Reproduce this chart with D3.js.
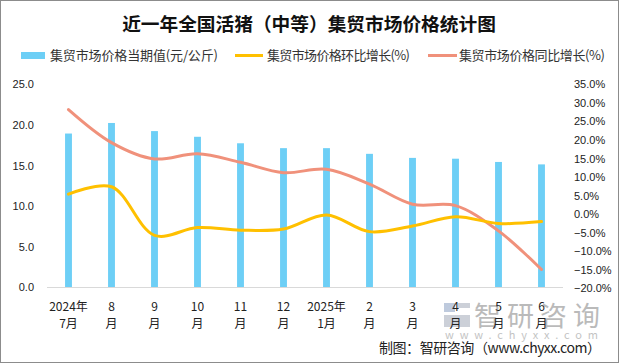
<!DOCTYPE html>
<html>
<head>
<meta charset="utf-8">
<script src="https://cdn.jsdelivr.net/npm/d3@7"></script>
<style>
  body { margin: 0; background: #fff; }
  svg { display: block; font-family: "Noto Sans CJK SC", "Noto Sans", sans-serif; }
  .tick-num { font-family: "Liberation Sans", Arial, sans-serif; font-size: 11px; fill: #222; }
</style>
</head>
<body>
<div id="chart"></div>
<script>
// month labels (two lines each)
var months = [
  ["2024年", "7月"], ["8", "月"], ["9", "月"], ["10", "月"], ["11", "月"], ["12", "月"],
  ["2025年", "1月"], ["2", "月"], ["3", "月"], ["4", "月"], ["5", "月"], ["6", "月"]
];
// 集贸市场价格当期值 (元/公斤)
var price = [18.9, 20.2, 19.2, 18.5, 17.7, 17.1, 17.1, 16.4, 15.9, 15.8, 15.4, 15.1];
// 环比增长 (%)
var momGrowth = [5.3, 7.3, -5.8, -3.7, -4.4, -4.1, -0.3, -4.8, -3.3, -0.8, -2.6, -2.1];
// 同比增长 (%)
var yoyGrowth = [28.1, 19.2, 14.8, 16.2, 13.9, 11.1, 12.0, 8.0, 2.6, 2.2, -4.6, -15.0];

var leftTicks = [0, 5, 10, 15, 20, 25];
var rightTicks = [-20, -15, -10, -5, 0, 5, 10, 15, 20, 25, 30, 35];

var W = 619, H = 363;
var plot = {left: 47, right: 563, top: 84, bottom: 287};

var svg = d3.select("#chart").append("svg")
  .attr("width", W).attr("height", H);

svg.append("rect")
  .attr("x", 0.5).attr("y", 0.5).attr("width", W - 1).attr("height", H - 1)
  .attr("fill", "#fff").attr("stroke", "#8c8c8c");

// title
svg.append("text")
  .attr("x", 309).attr("y", 31)
  .attr("text-anchor", "middle")
  .attr("font-size", "18.7px").attr("font-weight", "bold").attr("fill", "#111")
  .text("近一年全国活猪（中等）集贸市场价格统计图");

// legend
var legend = svg.append("g").attr("font-size", "13px").attr("fill", "#333");
legend.append("rect").attr("x", 21).attr("y", 52).attr("width", 24).attr("height", 7).attr("fill", "#6dcff6");
legend.append("text").attr("x", 50).attr("y", 60).attr("textLength", 168).text("集贸市场价格当期值(元/公斤)");
legend.append("line").attr("x1", 235).attr("x2", 263).attr("y1", 55.5).attr("y2", 55.5)
  .attr("stroke", "#ffc000").attr("stroke-width", 3);
legend.append("text").attr("x", 267).attr("y", 60).attr("textLength", 143).text("集贸市场价格环比增长(%)");
legend.append("line").attr("x1", 428).attr("x2", 457).attr("y1", 55.5).attr("y2", 55.5)
  .attr("stroke", "#f0917b").attr("stroke-width", 3);
legend.append("text").attr("x", 459).attr("y", 60).attr("textLength", 146).text("集贸市场价格同比增长(%)");

// scales
var x = d3.scaleBand()
  .domain(d3.range(months.length))
  .range([plot.left, plot.right])
  .paddingInner(0.84).paddingOuter(0.42);

var yL = d3.scaleLinear().domain([0, 25]).range([plot.bottom, plot.top]);
var yR = d3.scaleLinear().domain([-20, 35]).range([plot.bottom + 1, plot.top]);

function cx(i) { return x(i) + x.bandwidth() / 2; }

// left axis
var leftAxis = svg.append("g")
  .attr("transform", "translate(34,0)")
  .call(d3.axisLeft(yL).tickValues(leftTicks).tickSize(0).tickPadding(0)
    .tickFormat(d3.format(".1f")));
leftAxis.select(".domain").remove();
leftAxis.selectAll("text").attr("class", "tick-num").attr("dy", "0.35em");

// right axis
var rightAxis = svg.append("g")
  .attr("transform", "translate(574,0)")
  .call(d3.axisRight(yR).tickValues(rightTicks).tickSize(0).tickPadding(0)
    .tickFormat(function(d) { return d3.format(".1f")(d) + "%"; }));
rightAxis.select(".domain").remove();
rightAxis.selectAll("text").attr("class", "tick-num").attr("dy", "0.35em");

// bars
svg.append("g").selectAll("rect")
  .data(price)
  .join("rect")
  .attr("x", function(d, i) { return x(i); })
  .attr("width", x.bandwidth())
  .attr("y", function(d) { return yL(d); })
  .attr("height", function(d) { return yL(0) - yL(d); })
  .attr("fill", "#6dcff6");

// baseline
svg.append("line")
  .attr("x1", plot.left).attr("x2", plot.right)
  .attr("y1", plot.bottom + 0.5).attr("y2", plot.bottom + 0.5)
  .attr("stroke", "#d9d9d9");

// lines
var line = d3.line()
  .x(function(d, i) { return cx(i); })
  .y(function(d) { return yR(d); })
  .curve(d3.curveCatmullRom.alpha(0.5));

svg.append("path").datum(yoyGrowth)
  .attr("d", line).attr("fill", "none")
  .attr("stroke", "#f0917b").attr("stroke-width", 3).attr("stroke-linecap", "round");

svg.append("path").datum(momGrowth)
  .attr("d", line).attr("fill", "none")
  .attr("stroke", "#ffc000").attr("stroke-width", 3).attr("stroke-linecap", "round");

// watermark (drawn under the labels)
var wm = svg.append("g").attr("opacity", 0.5);
wm.append("rect").attr("x", 444).attr("y", 303).attr("width", 11).attr("height", 9).attr("fill", "#7f97bd");
wm.append("rect").attr("x", 458).attr("y", 303).attr("width", 12).attr("height", 5).attr("fill", "#9aa3b3");
wm.append("rect").attr("x", 444).attr("y", 315).attr("width", 26).attr("height", 12).attr("fill", "#9aa3b3");
wm.append("text").attr("x", 474).attr("y", 326).attr("font-size", "27px").attr("fill", "#777")
  .attr("textLength", 126).text("智研咨询");
wm.append("text").attr("x", 445).attr("y", 339).attr("font-size", "11px").attr("fill", "#888")
  .attr("textLength", 153).text("www.chyxx.com");

// x labels
var xl = svg.append("g").attr("font-size", "12px").attr("fill", "#222").attr("text-anchor", "middle");
months.forEach(function(m, i) {
  xl.append("text").attr("x", cx(i)).attr("y", 311).text(m[0]);
  xl.append("text").attr("x", cx(i)).attr("y", 328).text(m[1]);
});

// credit
svg.append("text")
  .attr("x", 379).attr("y", 353)
  .attr("font-size", "14px").attr("fill", "#222")
  .attr("textLength", 222)
  .text("制图：智研咨询（www.chyxx.com）");
</script>
</body>
</html>
